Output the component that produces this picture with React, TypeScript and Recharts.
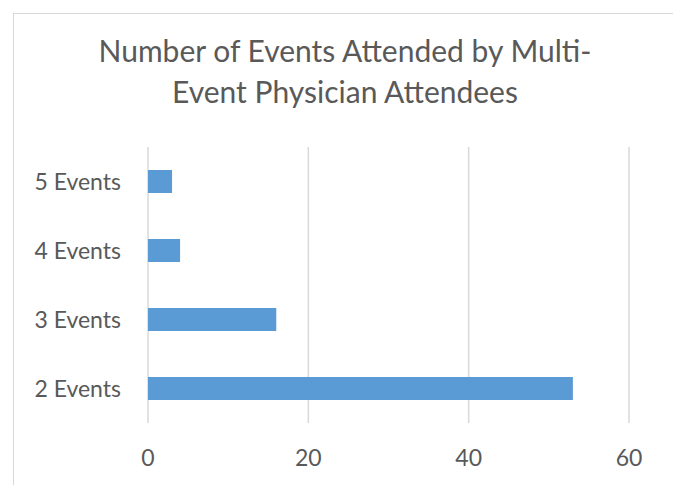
import { BarChart, Bar, XAxis, YAxis, CartesianGrid } from 'recharts';

const categories = ['5 Events', '4 Events', '3 Events', '2 Events'];
const attendees = [3, 4, 16, 53];
const xTicks = [0, 20, 40, 60];
const titleLines = ['Number of Events Attended by Multi-', 'Event Physician Attendees'];

const data = categories.map((name, i) => ({ name, value: attendees[i] }));

const FONT = 'Lato, "Open Sans", sans-serif';
const TEXT = '#595959';
const GRID = '#d9d9d9';

export default function App() {
  return (
    <div
      style={{
        position: 'relative',
        marginLeft: 5,
        marginTop: 5,
        width: 662,
        height: 480,
        border: `1px solid ${GRID}`,
        borderBottom: 'none',
        background: '#fff',
        fontFamily: FONT,
      }}
    >
      <div
        style={{
          position: 'absolute',
          top: 16,
          left: 0,
          width: 662,
          textAlign: 'center',
          color: TEXT,
          fontSize: 30,
          lineHeight: '41px',
        }}
      >
        {titleLines.map((t) => (
          <div key={t}>{t}</div>
        ))}
      </div>
      <BarChart
        width={662}
        height={471}
        data={data}
        layout="vertical"
        margin={{ top: 133, right: 47, bottom: 12, left: 0 }}
        barCategoryGap="33.3%"
      >
        <CartesianGrid horizontal={false} stroke={GRID} strokeWidth={1.5} />
        <XAxis
          type="number"
          domain={[0, 60]}
          ticks={xTicks}
          axisLine={false}
          tickLine={false}
          tickSize={0}
          tickMargin={27}
          height={50}
          tick={{ fill: TEXT, fontSize: 23, fontFamily: FONT }}
        />
        <YAxis
          type="category"
          dataKey="name"
          width={134}
          axisLine={false}
          tickLine={false}
          tickSize={0}
          tickMargin={27}
          tick={{ fill: TEXT, fontSize: 23, fontFamily: FONT }}
        />
        <Bar dataKey="value" fill="#5b9bd5" barSize={23} isAnimationActive={false} />
      </BarChart>
    </div>
  );
}
